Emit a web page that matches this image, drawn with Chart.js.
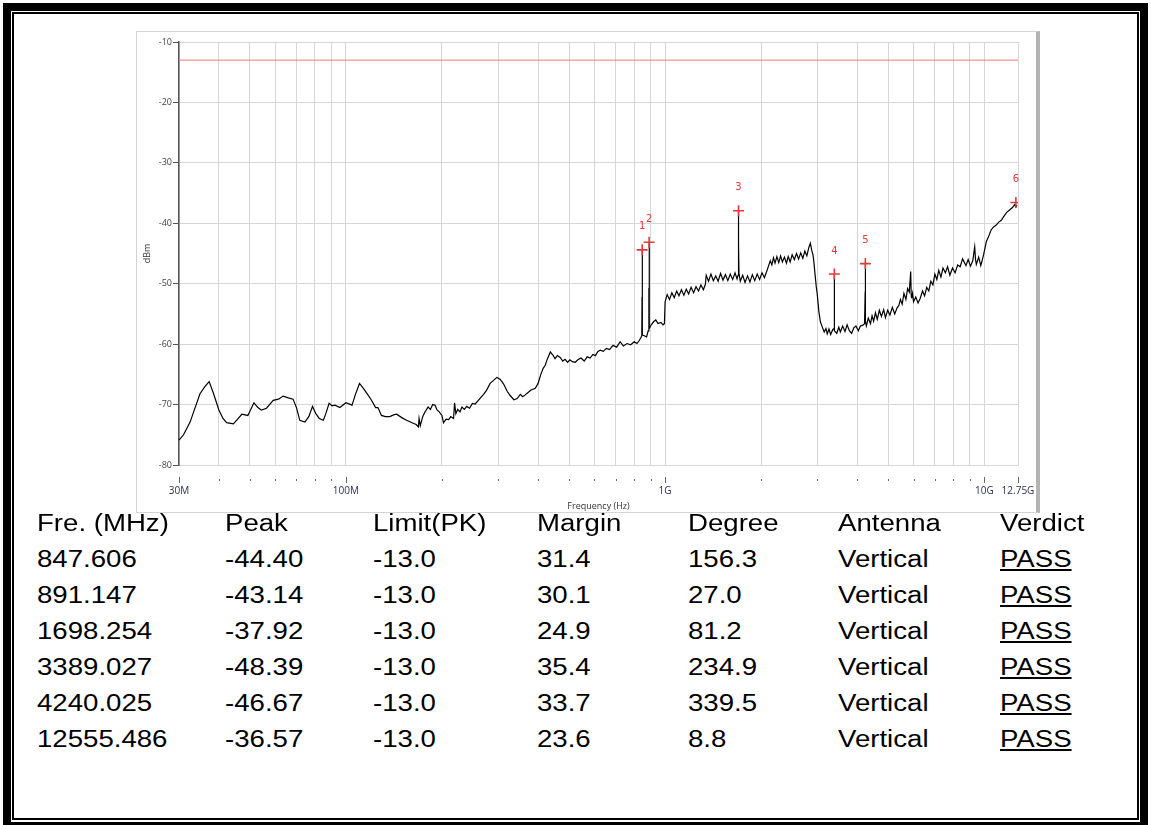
<!DOCTYPE html>
<html><head><meta charset="utf-8">
<script src="https://cdn.jsdelivr.net/npm/chart.js@4.4.0/dist/chart.umd.min.js"></script>
<style>
html,body{margin:0;padding:0;background:#fff;width:1151px;height:825px;overflow:hidden;position:relative;}
#outer{position:absolute;left:3px;top:3px;width:1145px;height:827px;border:8px solid #000;box-sizing:border-box;}
#inner{position:absolute;left:12px;top:12px;width:1127px;height:808px;border:2px solid #000;box-sizing:border-box;}
#wrap{position:absolute;left:136px;top:31px;width:904px;height:482px;}
#frame{position:absolute;left:136px;top:31px;width:904px;height:482px;box-sizing:border-box;border:1px solid #d4d4d4;border-right:4px solid #b4b4b4;pointer-events:none;}
.cell{position:absolute;font-family:"Liberation Sans",Arial,sans-serif;font-size:23px;color:#000;white-space:nowrap;transform:scaleX(1.2);transform-origin:left center;line-height:26px;height:26px;}
.u{text-decoration:underline;}
</style></head>
<body>
<div id="outer"></div>
<div id="inner"></div>
<div id="wrap"><canvas id="c"></canvas></div>
<div id="frame"></div>
<div id="tbl"></div>
<script>
// ---- data (frequency in MHz, level in dBm) ----
const traceFreq = [30,31,32.5,33.7,34.9,36.2,37.3,38.5,40,41.2,42.3,44.4,45.8,47.2,49.3,51.5,53,54.3,56.4,59.2,61.5,63.6,66,68.3,70,71.7,74.4,76.5,78.6,80.5,82.5,85,86.5,88.6,90.5,92.4,95.7,100,104.5,107,110.3,113,116.5,120,123.9,126,129.2,133,137.3,141,144.2,150,155,162.5,166,168.7,169.5,171,174,177,181,184,187,190.3,193,196,199.9,202.2,206,210,213,217.4,219,221,224,227.7,231,235,239,244,249,254,260,
264,270,276,283,290,297,304,312,320,327,336,344,352,358,364.5,372,380,392,400,408,415,421,428,437,445,452,460,469,478,486,495,503,512,523,533,545,558,570,582,594,605,616,626,640,655,670,687,705,723,740,760,780,800,816,830,840,845,846.8,847.2,847.606,848.0,848.5,851,860,875,885,889.5,890.6,891.147,891.7,893,905,920,935,950,970,985,995,
1000,1015,1032,1050,1068,1087,1105,1125,1145,1165,1185,1206,1228,1250,1272,1295,1318,1337,1345,1368,1392,1416,1441,1466,1492,1518,1545,1572,1600,1628,1656,1680,1692,1697,1698.254,1699.5,1704,1720,1750,1780,1812,1844,1876,1909,1943,1977,2012,2047,2083,2110,2135,2160,2185,2210,2240,2270,2300,2330,2365,2400,2430,2465,2500,2540,2580,2620,2660,2700,2740,2780,2820,2851,2880,2905,2920,2950,2975,2995,3030,3065,3104,3150,3190,3221,3260,3300,3350,3382,3386,3389.027,3392,3397,3450,3500,3540,3600,3660,3717,3780,3840,3900,3960,4030,4090,4150,4215,4234,4238,4240.025,4242,4247,
4270,4330,4400,4450,4500,4560,4620,4690,4760,4838,4900,4980,5060,5150,5240,5330,5400,5459,5530,5600,5680,5750,5820,5880,5900,5920,5960,6000,6097,6200,6300,6402,6500,6600,6700,6800,6900,7000,7100,7200,7312,7420,7550,7670,7800,7950,8100,8250,8400,8550,8760,8900,9050,9200,9330,9385,9440,9600,9750,9950,10150,10350,10500,10690,10900,11100,11300,11500,11750,12000,12250,12450,12555.486,12650,12750];
const traceLevel = [-75.9,-75.0,-72.9,-70.5,-68.2,-67.0,-66.2,-68.2,-70.9,-72.3,-73.0,-73.2,-72.4,-71.6,-71.8,-69.7,-70.5,-70.9,-70.6,-69.3,-69.1,-68.6,-68.9,-69.1,-70.5,-72.6,-72.9,-72.0,-70.3,-71.5,-72.3,-72.6,-71.5,-69.8,-70.2,-70.1,-70.5,-69.7,-70.1,-68.4,-66.5,-67.2,-68.2,-69.2,-70.5,-70.5,-71.8,-72.0,-72.0,-71.7,-71.6,-72.2,-72.6,-73.1,-73.3,-73.7,-72.3,-73.5,-72.0,-71.2,-70.4,-70.8,-70.0,-70.1,-70.9,-71.2,-71.8,-73.0,-72.4,-72.5,-72.0,-72.3,-69.7,-71.5,-70.8,-71.2,-70.4,-70.8,-70.3,-70.6,-69.8,-69.9,-69.3,
-68.9,-68.3,-67.6,-66.5,-66.0,-65.5,-65.8,-66.6,-67.8,-68.5,-69.2,-69.0,-68.3,-68.7,-68.4,-68.0,-67.6,-67.3,-66.5,-65.0,-64.0,-63.5,-62.4,-61.3,-61.8,-62.4,-61.9,-62.2,-62.8,-62.5,-63.0,-62.6,-62.9,-63.0,-62.6,-62.3,-62.8,-62.1,-62.3,-61.7,-61.9,-61.2,-61.0,-61.2,-60.7,-60.9,-60.2,-60.5,-59.6,-60.3,-59.9,-60.1,-59.6,-59.9,-59.4,-58.9,-58.6,-52.2,-52.2,-44.40,-52.2,-58.3,-58.5,-58.6,-58.8,-57.8,-50.8,-50.8,-43.14,-50.8,-57.4,-56.8,-56.3,-56.0,-56.6,-56.4,-56.8,-56.6,
-53.0,-51.8,-52.6,-51.5,-52.3,-51.2,-52.0,-51.0,-51.9,-50.9,-51.7,-50.6,-51.5,-50.5,-51.2,-50.2,-51.0,-50.1,-48.6,-49.6,-48.4,-49.5,-48.7,-49.6,-48.3,-49.4,-48.5,-49.5,-48.4,-49.3,-48.2,-49.2,-48.6,-43.6,-37.92,-43.6,-48.3,-49.6,-48.6,-49.8,-48.7,-49.7,-48.5,-49.5,-48.4,-49.3,-48.2,-49.0,-47.9,-47.0,-46.2,-46.9,-45.7,-46.6,-45.5,-46.5,-45.4,-46.4,-45.6,-46.6,-45.5,-46.4,-45.2,-46.0,-45.0,-45.9,-44.9,-45.8,-44.6,-45.4,-44.0,-43.3,-44.5,-45.2,-46.1,-48.5,-50.5,-51.6,-54.5,-56.3,-57.1,-58.0,-57.4,-58.3,-57.5,-58.4,-57.6,-57.4,-53.0,-48.39,-53.0,-57.8,-58.2,-57.2,-58.0,-57.0,-57.9,-56.8,-57.8,-58.2,-57.3,-57.0,-57.8,-57.0,-56.9,-56.6,-51.3,-51.3,-46.67,-51.3,
-56.2,-57.0,-55.7,-56.6,-55.3,-56.2,-54.8,-55.9,-54.4,-55.4,-54.3,-55.6,-54.4,-55.2,-53.9,-55.0,-54.0,-53.6,-52.6,-53.4,-51.6,-52.6,-50.8,-51.4,-48.0,-51.8,-52.4,-51.6,-53.0,-52.2,-53.2,-52.4,-51.2,-52.0,-50.6,-51.2,-49.6,-50.2,-48.4,-49.3,-47.8,-48.9,-47.4,-48.2,-47.2,-48.6,-47.4,-48.2,-46.9,-47.2,-45.9,-47.0,-46.0,-47.1,-46.2,-43.9,-46.0,-46.8,-45.6,-47.0,-45.2,-43.0,-42.0,-41.1,-40.6,-40.3,-39.8,-39.5,-38.9,-38.2,-37.8,-37.4,-36.9,-37.3,-37.0];
const limitFreq = [30, 12750];
const limitLevel = [-13.0, -13.0];
const markerFreq = [847.606, 891.147, 1698.254, 3389.027, 4240.025, 12555.486];
const markerPeak = [-44.40, -43.14, -37.92, -48.39, -46.67, -36.57];
const markerLabels = ['1','2','3','4','5','6'];
const markerLimit = [-13.0, -13.0, -13.0, -13.0, -13.0, -13.0];
const markerMargin = [31.4, 30.1, 24.9, 35.4, 33.7, 23.6];
const markerDegree = [156.3, 27.0, 81.2, 234.9, 339.5, 8.8];
const markerAntenna = ['Vertical','Vertical','Vertical','Vertical','Vertical','Vertical'];
const markerVerdict = ['PASS','PASS','PASS','PASS','PASS','PASS'];
const tableHeaders = ['Fre. (MHz)','Peak','Limit(PK)','Margin','Degree','Antenna','Verdict'];
const xGridValues = [30,40,50,60,70,80,90,100,200,300,400,500,600,700,800,900,1000,2000,3000,4000,5000,6000,7000,8000,9000,10000,12750];
const xLabelValues = [30,100,1000,10000,12750];
const xLabelText = ['30M','100M','1G','10G','12.75G'];
const yTicks = [-80,-70,-60,-50,-40,-30,-20,-10];

// ---- table ----
const colX = [37,225,373,537,688,838,1000];
const rowY = [523,559,595,631,667,703,739];
const tbl = document.getElementById('tbl');
function cell(txt, c, r, cls){
  const d = document.createElement('div');
  d.className = 'cell' + (cls ? ' ' + cls : '');
  d.textContent = txt;
  d.style.left = colX[c] + 'px';
  d.style.top = (rowY[r] - 13) + 'px';
  tbl.appendChild(d);
}
tableHeaders.forEach((h,c)=>cell(h,c,0));
markerFreq.forEach((f,i)=>{
  cell(f.toFixed(3),0,i+1);
  cell(markerPeak[i].toFixed(2),1,i+1);
  cell(markerLimit[i].toFixed(1),2,i+1);
  cell(markerMargin[i].toFixed(1),3,i+1);
  cell(markerDegree[i].toFixed(1),4,i+1);
  cell(markerAntenna[i],5,i+1);
  cell(markerVerdict[i],6,i+1,'u');
});

// ---- chart ----
const extraDraw = {
  id:'extraDraw',
  afterDraw(chart){
    const ctx = chart.ctx, xs = chart.scales.x, ca = chart.chartArea;
    ctx.save();
    ctx.strokeStyle = '#666'; ctx.lineWidth = 1;
    xs.ticks.forEach((t,i)=>{
      const px = Math.round(xs.getPixelForTick(i)) + 0.5;
      const major = xLabelValues.includes(t.value);
      ctx.beginPath();
      ctx.moveTo(px, ca.bottom + (major ? 12 : 14));
      ctx.lineTo(px, ca.bottom + (major ? 18 : 16));
      ctx.stroke();
    });
    const meta = chart.getDatasetMeta(0);
    ctx.fillStyle = '#e23a3a';
    ctx.font = '10px "DejaVu Sans"';
    ctx.textAlign = 'center'; ctx.textBaseline = 'middle';
    meta.data.forEach((p,i)=>ctx.fillText(markerLabels[i], p.x, p.y - 23));
    ctx.restore();
  }
};

new Chart(document.getElementById('c'), {
  data: {
    datasets: [
      { type:'scatter', data: markerFreq.map((f,i)=>({x:f,y:markerPeak[i]})),
        pointStyle:'cross', pointRadius:5.5, pointBorderColor:'#e23a3a', pointBorderWidth:1.6, borderColor:'#e23a3a', backgroundColor:'#e23a3a' },
      { type:'line', data: traceFreq.map((f,i)=>({x:f,y:traceLevel[i]})),
        borderColor:'#000', borderWidth:1.2, pointRadius:0, tension:0, fill:false },
      { type:'line', data: limitFreq.map((f,i)=>({x:f,y:limitLevel[i]})),
        borderColor:'rgb(238,120,120)', borderWidth:1, pointRadius:0, fill:false }
    ]
  },
  options: {
    responsive:true, maintainAspectRatio:false, animation:false,
    layout:{ padding:{ left:0, top:11, right:22, bottom:0 } },
    plugins:{ legend:{display:false}, tooltip:{enabled:false} },
    scales:{
      x:{ type:'logarithmic', min:30, max:12750,
        afterBuildTicks(s){ s.ticks = xGridValues.map(v=>({value:v})); },
        afterFit(s){ s.height = 48; },
        grid:{ color:'#d6d6d6', lineWidth:1, drawTicks:true, tickLength:18, tickColor:'rgba(0,0,0,0)' },
        border:{ color:'#d6d6d6' },
        ticks:{ autoSkip:false, maxRotation:0, padding:2, color:'#2d2d55',
          font:{ family:'Open Sans', size:10 },
          callback:(v)=>{ const k = xLabelValues.indexOf(v); return k >= 0 ? xLabelText[k] : ''; } },
        title:{ display:true, text:'Frequency (Hz)', color:'#333', font:{ family:'Open Sans', size:9 }, padding:{ top:0, bottom:1 } }
      },
      y:{ min:-80, max:-10,
        afterBuildTicks(s){ s.ticks = yTicks.map(v=>({value:v})); },
        afterFit(s){ s.width = 43; },
        grid:{ color:'#d6d6d6', tickLength:6, tickColor:'#555' },
        border:{ color:'#555', width:1.5 },
        ticks:{ padding:1, color:'#444', font:{ family:'Open Sans', size:9 } },
        title:{ display:true, text:'dBm', color:'#333', font:{ family:'Open Sans', size:9 }, padding:{ top:6, bottom:0 } }
      }
    }
  },
  plugins:[extraDraw]
});
</script>
</body></html>
